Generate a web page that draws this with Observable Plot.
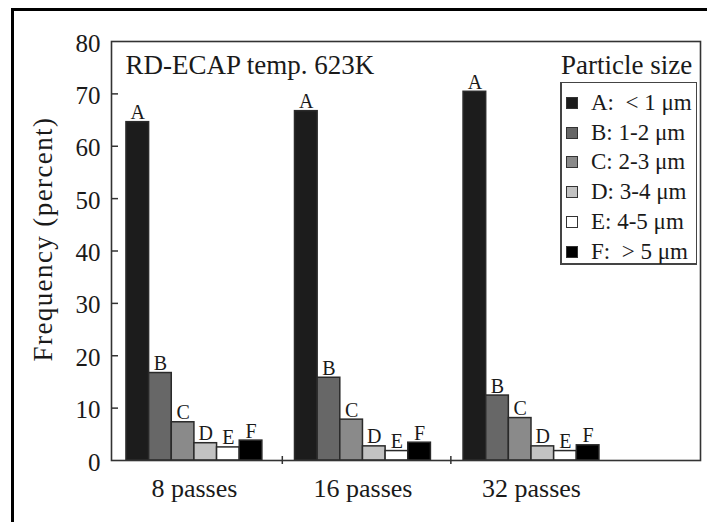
<!DOCTYPE html>
<html><head><meta charset="utf-8">
<script src="https://cdn.jsdelivr.net/npm/d3@7"></script>
<script src="https://cdn.jsdelivr.net/npm/@observablehq/plot@0.6"></script>
<style>
html,body{margin:0;padding:0;background:#fff;overflow:hidden;}
#wrap{position:relative;width:707px;height:522px;font-family:"Liberation Serif",serif;color:#1a1a1a;}
#outer{position:absolute;left:11px;top:8px;width:720px;height:540px;border-top:3px solid #000;border-left:3px solid #000;pointer-events:none;}
#legtitle{position:absolute;left:561px;top:50px;font-size:27px;line-height:30px;white-space:nowrap;}
#legend{position:absolute;left:560px;top:82px;width:137px;height:183px;border:1.5px solid #444;border-left-width:2.5px;border-bottom-width:2.5px;background:#fff;box-sizing:border-box;}
.row{position:absolute;left:0;height:30px;display:flex;align-items:center;font-size:23px;white-space:pre;}
.sw{width:10px;height:10px;border:1.5px solid #333;margin:0 13px 0 4px;}
</style>
</head><body>
<div id="wrap"><div id="outer"></div></div>
<script>
const passes = ["8 passes", "16 passes", "32 passes"];
const sizes = ["A", "B", "C", "D", "E", "F"];
const freq8 = [64.6, 16.7, 7.3, 3.3, 2.5, 3.8];
const freq16 = [66.7, 15.8, 7.8, 2.7, 1.8, 3.4];
const freq32 = [70.4, 12.4, 8.1, 2.7, 1.8, 2.9];
const sizeLabels = ["A:  < 1 μm", "B: 1-2 μm", "C: 2-3 μm", "D: 3-4 μm", "E: 4-5 μm", "F:  > 5 μm"];
const colors = ["#1c1c1c", "#676767", "#8a8a8a", "#c2c2c2", "#ffffff", "#000000"];
const yTicks = [0, 10, 20, 30, 40, 50, 60, 70, 80];
const title = "RD-ECAP temp. 623K";
const legendTitle = "Particle size";
const yLabel = "Frequency (percent)";

const series = [freq8, freq16, freq32];
const groupStart = g => 0.66 + 7.44 * g;
const data = [];
series.forEach((vals, g) => vals.forEach((v, i) => data.push({pass: passes[g], size: sizes[i], value: v, g, i})));
const seps = [1, 2].map(g => groupStart(g) - 0.56);
const ink = "#1a1a1a";

const chart = Plot.plot({
  width: 707, height: 522,
  marginLeft: 111, marginRight: 7, marginTop: 41, marginBottom: 62,
  style: {fontFamily: "Liberation Serif, serif", fontSize: "24px", color: ink, background: "transparent"},
  x: {domain: [0, 26], axis: null},
  y: {domain: [0, 80]},
  color: {domain: sizes, range: colors},
  marks: [
    Plot.rectY(data, {x1: d => groupStart(d.g) + d.i, x2: d => groupStart(d.g) + d.i + 1, y: "value", fill: "size", stroke: "#2a2a2a", strokeWidth: 1.5}),
    Plot.text(data, {x: d => groupStart(d.g) + d.i + 0.5, y: "value", text: "size", lineAnchor: "bottom", dy: -3, fontSize: 20, fill: ink}),
    Plot.frame({stroke: "#333", strokeWidth: 1.6}),
    Plot.ruleY(yTicks.slice(1, -1), {y: d => d, x1: 0, x2: 0, insetRight: -7, stroke: "#333", strokeWidth: 1.5}),
    Plot.ruleX(seps, {x: d => d, y1: 0, y2: 0, insetTop: -4, insetBottom: -4, stroke: "#333", strokeWidth: 1.5}),
    Plot.axisY(yTicks, {tickSize: 0, tickPadding: 11, fontSize: 25, label: null, fill: ink, dy: 2}),
    Plot.text(passes, {x: (d, i) => groupStart(i) + 3, frameAnchor: "bottom", lineAnchor: "top", dy: 18, fontSize: 26, fill: ink}),
    Plot.text([title], {frameAnchor: "top-left", textAnchor: "start", lineAnchor: "top", dx: 14, dy: 13, fontSize: 27, fill: ink}),
    Plot.text([yLabel], {frameAnchor: "left", textAnchor: "middle", rotate: -90, dx: -68, dy: -12, fontSize: 27, fill: ink})
  ]
});
d3.select(chart).selectAll("text").filter(function() { return this.textContent === yLabel; }).style("letter-spacing", "1.4px");
const wrap = document.getElementById("wrap");
wrap.insertBefore(chart, wrap.firstChild);

const lt = document.createElement("div");
lt.id = "legtitle"; lt.textContent = legendTitle; wrap.appendChild(lt);
const leg = document.createElement("div");
leg.id = "legend"; wrap.appendChild(leg);
sizeLabels.forEach((lab, i) => {
  const row = document.createElement("div");
  row.className = "row";
  row.style.top = (5 + i * 29.7) + "px";
  const sw = document.createElement("div");
  sw.className = "sw"; sw.style.background = colors[i];
  const tx = document.createElement("span"); tx.textContent = lab;
  row.appendChild(sw); row.appendChild(tx);
  leg.appendChild(row);
});
</script>
</body></html>
